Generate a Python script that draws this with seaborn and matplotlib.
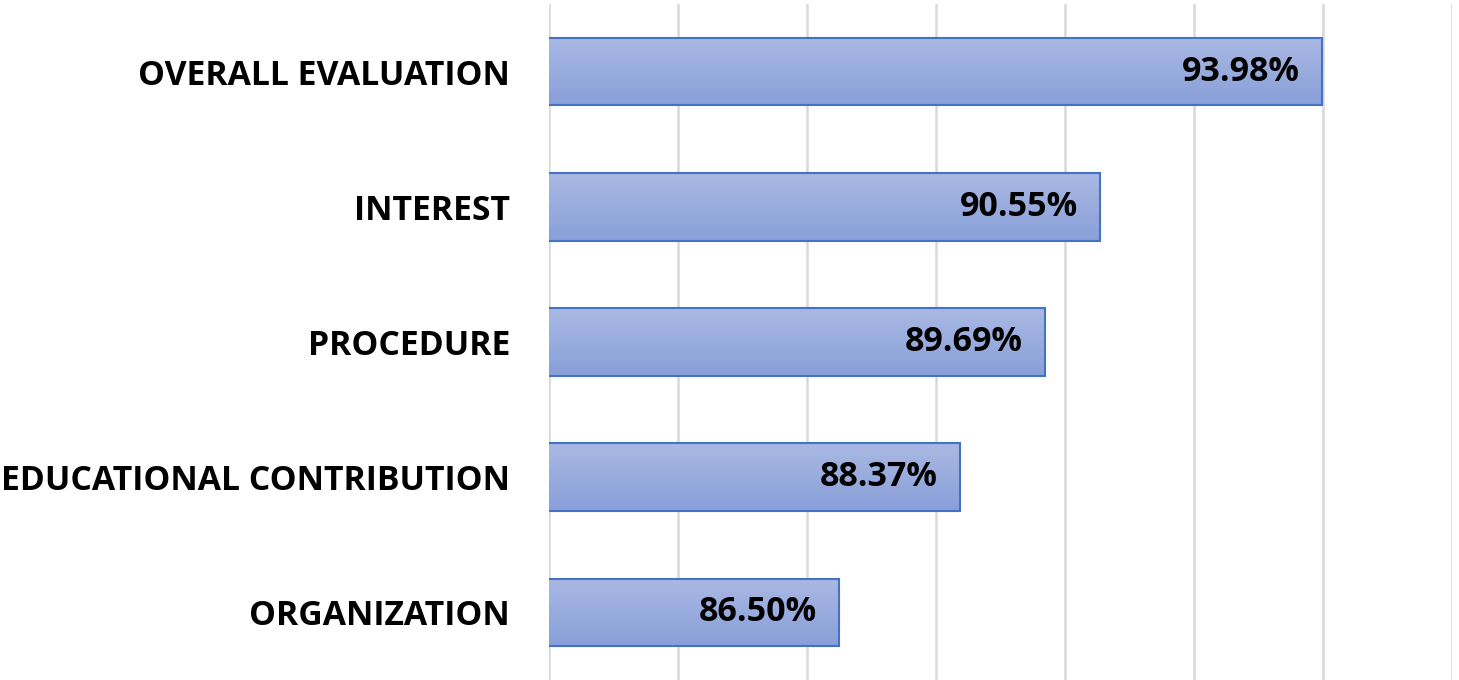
import numpy as np
import pandas as pd
import matplotlib
matplotlib.use("Agg")
import matplotlib.pyplot as plt
from matplotlib.colors import LinearSegmentedColormap
import seaborn as sns

categories = ["OVERALL EVALUATION", "INTEREST", "PROCEDURE",
              "EDUCATIONAL CONTRIBUTION", "ORGANIZATION"]
values = [93.98, 90.55, 89.69, 88.37, 86.50]
labels = ["93.98%", "90.55%", "89.69%", "88.37%", "86.50%"]

df = pd.DataFrame({"category": categories, "value": values})

sns.set_style("white")
plt.rcParams["font.family"] = ["Open Sans", "DejaVu Sans"]

fig = plt.figure(figsize=(14.59, 6.80), dpi=100)
ax = fig.add_axes([549 / 1459, 0.0, (1452 - 549) / 1459, 1 - 4 / 680])

sns.barplot(data=df, x="value", y="category", orient="h", width=0.5,
            color="#9aaedd", edgecolor="#4472c4", linewidth=1.5, ax=ax, zorder=3)

ax.set_xlim(82, 96)
ax.set_ylim(4.5, -0.5)
ax.set_xticks(np.arange(82, 97, 2))
ax.xaxis.grid(True, color="#d9d9d9", linewidth=1.8, zorder=0)
ax.set_axisbelow(True)
ax.tick_params(axis="x", labelbottom=False, length=0)
ax.tick_params(axis="y", length=0, pad=28, labelcolor="black")
for lbl in ax.get_yticklabels():
    lbl.set_fontsize(24.3)
    lbl.set_fontweight("bold")
ax.set_xlabel("")
ax.set_ylabel("")
for s in ax.spines.values():
    s.set_visible(False)

# vertical gradient fill inside each bar
cmap = LinearSegmentedColormap.from_list("bar", ["#aab9e3", "#889fd9"])
grad = np.linspace(0, 1, 256).reshape(-1, 1)
for p in ax.patches:
    x0, y0 = p.get_x(), p.get_y()
    w, h = p.get_width(), p.get_height()
    im = ax.imshow(grad, cmap=cmap, aspect="auto", extent=[82, x0 + w, y0 + h, y0],
                   zorder=2.5, interpolation="bilinear")
    im.set_clip_path(p)
    p.set_facecolor("none")

ax.set_xlim(82, 96)
ax.set_ylim(4.5, -0.5)

for i, (v, t) in enumerate(zip(values, labels)):
    ax.annotate(t, xy=(v, i), xytext=(-16, 0), textcoords="offset points",
                ha="right", va="center", fontsize=24.5, fontweight="bold",
                color="black", zorder=4)

fig.savefig("out.png", dpi=100)
